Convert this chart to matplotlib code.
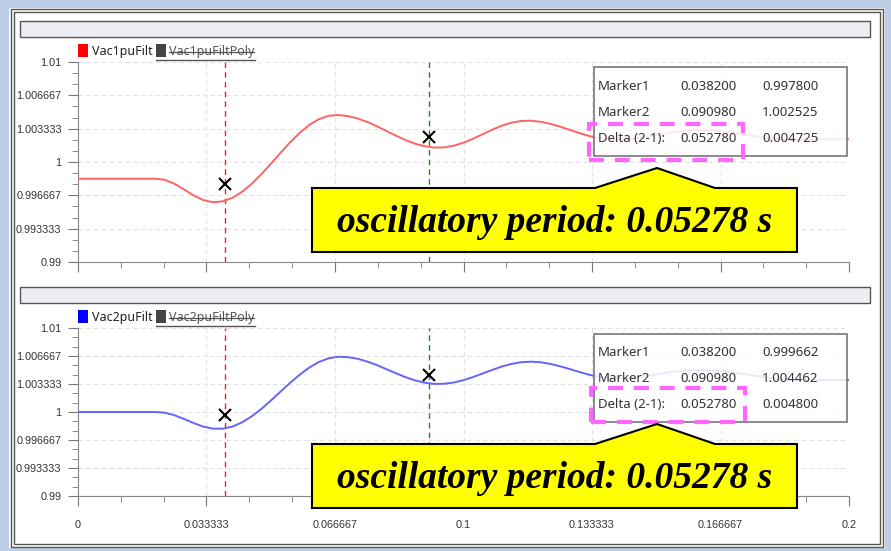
import matplotlib
matplotlib.use("Agg")
import matplotlib.pyplot as plt
from matplotlib.patches import Rectangle, Polygon
from matplotlib.lines import Line2D

# time axis (s) and filtered voltages (pu)
t = [0.0000, 0.0025, 0.0050, 0.0075, 0.0100, 0.0125, 0.0150, 0.0175, 0.0200,
     0.0225, 0.0250, 0.0275, 0.0300, 0.0325, 0.0350, 0.0375, 0.0400, 0.0425,
     0.0450, 0.0475, 0.0500, 0.0525, 0.0550, 0.0575, 0.0600, 0.0625, 0.0650,
     0.0675, 0.0700, 0.0725, 0.0750, 0.0775, 0.0800, 0.0825, 0.0850, 0.0875,
     0.0900, 0.0925, 0.0950, 0.0975, 0.1000, 0.1025, 0.1050, 0.1075, 0.1100,
     0.1125, 0.1150, 0.1175, 0.1200, 0.1225, 0.1250, 0.1275, 0.1300, 0.1325,
     0.1350, 0.1375, 0.1400, 0.1425, 0.1450, 0.1475, 0.1500, 0.1525, 0.1550,
     0.1575, 0.1600, 0.1625, 0.1650, 0.1675, 0.1700, 0.1725, 0.1750, 0.1775,
     0.1800, 0.1825, 0.1850, 0.1875, 0.1900, 0.1925, 0.1950, 0.1975, 0.2000]

vac1 = [0.99833, 0.99833, 0.99833, 0.99833, 0.99833, 0.99833, 0.99833, 0.99833, 0.99833,
        0.99822, 0.99783, 0.99726, 0.99666, 0.99619, 0.99598, 0.99606, 0.99641, 0.99700,
        0.99780, 0.99876, 0.99981, 1.00090, 1.00196, 1.00291, 1.00371, 1.00429, 1.00462,
        1.00470, 1.00459, 1.00436, 1.00401, 1.00358, 1.00310, 1.00263, 1.00219, 1.00182,
        1.00157, 1.00144, 1.00146, 1.00163, 1.00193, 1.00233, 1.00279, 1.00324, 1.00364,
        1.00394, 1.00410, 1.00413, 1.00402, 1.00382, 1.00354, 1.00322, 1.00290, 1.00261,
        1.00237, 1.00223, 1.00220, 1.00225, 1.00235, 1.00250, 1.00268, 1.00286, 1.00302,
        1.00314, 1.00319, 1.00320, 1.00314, 1.00304, 1.00291, 1.00276, 1.00260, 1.00246,
        1.00235, 1.00227, 1.00225, 1.00225, 1.00226, 1.00226, 1.00227, 1.00227, 1.00228]

vac2 = [1.00000, 1.00000, 1.00000, 1.00000, 1.00000, 1.00000, 1.00000, 1.00000, 1.00000,
        0.99992, 0.99962, 0.99917, 0.99868, 0.99826, 0.99802, 0.99801, 0.99825, 0.99875,
        0.99946, 1.00034, 1.00135, 1.00241, 1.00346, 1.00444, 1.00529, 1.00596, 1.00639,
        1.00658, 1.00653, 1.00634, 1.00601, 1.00559, 1.00510, 1.00461, 1.00414, 1.00375,
        1.00348, 1.00334, 1.00336, 1.00351, 1.00379, 1.00416, 1.00459, 1.00502, 1.00542,
        1.00573, 1.00593, 1.00599, 1.00592, 1.00573, 1.00545, 1.00512, 1.00477, 1.00445,
        1.00420, 1.00404, 1.00400, 1.00405, 1.00415, 1.00430, 1.00448, 1.00466, 1.00482,
        1.00494, 1.00499, 1.00500, 1.00494, 1.00484, 1.00470, 1.00454, 1.00437, 1.00419,
        1.00404, 1.00392, 1.00384, 1.00380, 1.00380, 1.00380, 1.00380, 1.00381, 1.00381]

# cursor markers: (time, value) for Marker1 / Marker2
markers1 = [(0.038200, 0.997800), (0.090980, 1.002525)]
markers2 = [(0.038200, 0.999662), (0.090980, 1.004462)]
delta1 = (0.052780, 0.004725)
delta2 = (0.052780, 0.004800)

xticks = [0, 0.033333, 0.066667, 0.1, 0.133333, 0.166667, 0.2]
xlabels = ["0", "0.033333", "0.066667", "0.1", "0.133333", "0.166667", "0.2"]
yticks = [0.99, 0.993333, 0.996667, 1.0, 1.003333, 1.006667, 1.01]
ylabels = ["0.99", "0.993333", "0.996667", "1", "1.003333", "1.006667", "1.01"]

callout = "oscillatory period: 0.05278 s"

W, H = 891, 551
fig = plt.figure(figsize=(W / 100, H / 100), dpi=100)
fig.patch.set_facecolor("white")


def fx(px):
    return px / W


def fy(py):
    return 1 - py / H


def frect(x0, y0, x1, y1, **kw):
    fig.add_artist(Rectangle((fx(x0), fy(y1)), fx(x1) - fx(x0), fy(y0) - fy(y1),
                             transform=fig.transFigure, **kw))


def fline(xs, ys, **kw):
    fig.add_artist(Line2D([fx(v) for v in xs], [fy(v) for v in ys],
                          transform=fig.transFigure, **kw))


# window frame
blue = "#bccfe6"
frect(0, 0, W, 8, facecolor=blue, edgecolor="none")
frect(0, 0, 9, H, facecolor=blue, edgecolor="none")
frect(885, 0, W, H, facecolor=blue, edgecolor="none")
frect(0, 548, W, H, facecolor=blue, edgecolor="none")
frect(11, 9, 883, 547, facecolor="none", edgecolor="#555555", lw=1.0)
frect(14, 12, 880, 544, facecolor="none", edgecolor="#555555", lw=1.0)

tickfont = ["Liberation Sans", "DejaVu Sans"]
ui = ["Noto Sans", "DejaVu Sans"]


def panel(ax, y, color, line_color, marks, delta, name, bar_y, leg_y, box, pink, call):
    ax.plot(t, y, color=line_color, lw=1.4, zorder=3)
    ax.axvline(marks[0][0], color="#ee2222", lw=1.0, ls=(0, (4, 3)), zorder=2)
    ax.axvline(marks[1][0], color="#228822", lw=1.0, ls=(0, (4, 3)), zorder=2)
    ax.plot([m[0] for m in marks], [m[1] for m in marks], "x", color="black",
            ms=8, mew=1.5, zorder=4)
    ax.set_xlim(0, 0.2)
    ax.set_ylim(0.99, 1.01)
    ax.set_xticks(xticks)
    ax.set_yticks(yticks)
    ax.set_yticklabels(ylabels, family=tickfont, fontsize=7.8, color="#333333")
    ax.set_xticks([i * 0.2 / 18 for i in range(19)], minor=True)
    ax.set_yticks([0.99 + i * 0.02 / 18 for i in range(19)], minor=True)
    ax.grid(True, which="major", color="#e2e2e2", ls=(0, (4, 3)), lw=0.8)
    for s in ["top", "right"]:
        ax.spines[s].set_visible(False)
    for s in ["left", "bottom"]:
        ax.spines[s].set_color("#888888")
    ax.tick_params(which="major", length=7, color="#777777", pad=5)
    ax.tick_params(which="minor", length=4, color="#777777")
    ax.set_facecolor("white")

    # header bar above the chart
    frect(20, bar_y, 870, bar_y + 16, facecolor="#eceef4", edgecolor="#555555", lw=1.0)

    # legend row
    frect(78, leg_y - 7, 88, leg_y + 6, facecolor=color, edgecolor="none")
    fig.text(fx(92), fy(leg_y), name, family=ui, fontsize=9, color="#222222", va="center")
    frect(156, leg_y - 7, 166, leg_y + 6, facecolor="#444444", edgecolor="none")
    fig.text(fx(169), fy(leg_y), name + "Poly", family=ui, fontsize=9, color="#555555",
             va="center")
    fline([169, 254], [leg_y + 1, leg_y + 1], color="#555555", lw=0.9)
    fline([156, 255], [leg_y + 9, leg_y + 9], color="#555555", lw=1.0)

    # marker readout box
    bx0, by0, bx1, by1 = box
    frect(bx0, by0, bx1, by1, facecolor="white", alpha=0.85, edgecolor="none", zorder=5)
    frect(bx0, by0, bx1, by1, facecolor="none", edgecolor="#777777", lw=1.2, zorder=6)
    rows = [("Marker1", "%.6f" % marks[0][0], "%.6f" % marks[0][1]),
            ("Marker2", "%.6f" % marks[1][0], "%.6f" % marks[1][1]),
            ("Delta (2-1):", "%.6f" % delta[0], "%.6f" % delta[1])]
    for i, r in enumerate(rows):
        yy = by0 + 19 + i * 26
        for xx, s in zip([bx0 + 4, bx0 + 86, bx0 + 168], r):
            fig.text(fx(xx), fy(yy), s, family=ui, fontsize=9.5, color="#333333",
                     va="center", zorder=7)

    # pink dashed highlight
    px0, py0, px1, py1 = pink
    frect(px0, py0, px1, py1, facecolor="none", edgecolor="#ff66ff", lw=3,
          ls=(0, (3.6, 2.6)), zorder=8)

    # yellow callout with pointer
    cx0, cy0, cx1, cy1, tip = call
    pts = [(cx0, cy0), (595, cy0), (657, tip), (715, cy0), (cx1, cy0),
           (cx1, cy1), (cx0, cy1)]
    fig.add_artist(Polygon([(fx(a), fy(b)) for a, b in pts], closed=True,
                           facecolor="#ffff00", edgecolor="black", lw=1.5,
                           transform=fig.transFigure, zorder=9))
    fig.text(fx((cx0 + cx1) / 2), fy((cy0 + cy1) / 2 + 2), callout,
             family=["Liberation Serif", "DejaVu Serif"], fontsize=27,
             fontweight="bold", fontstyle="italic", ha="center", va="center",
             color="black", zorder=10)


ax1 = fig.add_axes([fx(78), fy(262), fx(849) - fx(78), fy(62) - fy(262)])
ax2 = fig.add_axes([fx(78), fy(496), fx(849) - fx(78), fy(328) - fy(496)])

panel(ax1, vac1, "#ff0000", "#ff6464", markers1, delta1, "Vac1puFilt", 21, 51,
      (594, 67, 847, 156), (589, 124, 743, 160), (312, 188, 797, 252, 168))
panel(ax2, vac2, "#0000ff", "#6464ff", markers2, delta2, "Vac2puFilt", 287, 317,
      (594, 334, 847, 422), (591, 388, 745, 422), (312, 444, 797, 508, 424))

ax1.tick_params(labelbottom=False)
ax2.set_xticklabels(xlabels, family=tickfont, fontsize=7.8, color="#333333")
ax2.tick_params(axis="x", which="major", pad=10)

fig.savefig("out.png", dpi=100)
